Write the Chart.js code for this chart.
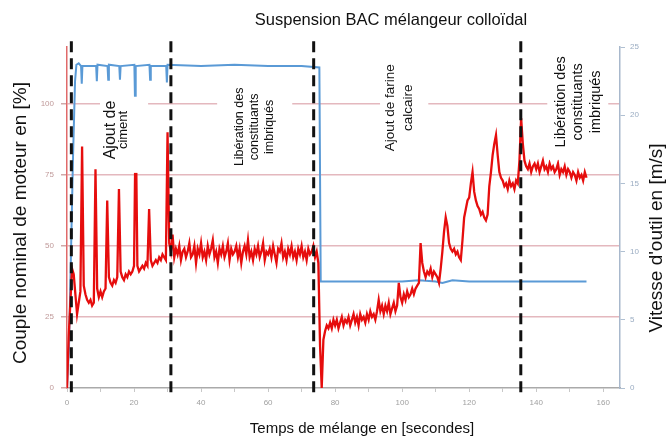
<!DOCTYPE html>
<html>
<head>
<meta charset="utf-8">
<script src="https://cdn.jsdelivr.net/npm/chart.js@4.4.1/dist/chart.umd.min.js"></script>
<style>
  html, body { margin: 0; padding: 0; background: #fff; }
  #wrap { width: 670px; height: 439px; }
</style>
</head>
<body>
<div id="wrap"><canvas id="mixChart" width="670" height="439"></canvas></div>
<script>
// torque [% nominal], one reading every 0.5 s from t = 0
const sampleStep = 0.5;
const torquePct = [
  0, 18, 30, 42, 40, 33, 26, 30, 34, 85,
  36, 33, 31, 30, 31, 29, 30, 77, 35, 32,
  34, 32, 34, 35, 66, 39, 37, 36, 38, 37,
  39, 70, 41, 39, 38, 40, 39, 41, 40, 41,
  43, 95, 43, 41, 42, 43, 42, 44, 43, 63,
  45, 43, 44, 45, 44, 46, 45, 47, 46, 45,
  90, 51,
  48, 54, 46, 49, 47, 50, 45, 48, 49, 46,
  48, 51, 46, 47, 50, 44, 49, 47, 51, 46,
  48, 45, 50, 47, 49, 52, 46, 48, 44, 49,
  47, 50, 46, 48, 51, 45, 49, 47, 48, 50,
  46, 49, 44, 48, 50, 47, 52, 46, 48, 45,
  49, 47, 50, 46, 48, 51, 45, 48, 47, 49,
  46, 50, 47, 44, 49, 48, 51, 46, 48, 45,
  49, 47, 50, 46, 48, 45, 49, 47, 50, 46,
  48, 45, 49, 47, 48, 50, 46, 48,
  44, 15, 0, 17, 20, 22, 21, 23, 21, 24,
  22, 24, 21, 23, 25, 22, 24, 23, 25, 22,
  24, 26, 23, 25, 22, 26, 24, 25, 23, 26,
  24, 27, 25, 26, 24, 27, 31, 27, 29, 26,
  29, 27, 30, 26, 28, 30, 27, 29, 37, 32,
  30, 33, 31, 34, 32, 33, 35, 33, 35, 36,
  37, 51, 44, 41, 39, 41, 40, 42, 39, 41,
  40, 39, 37, 42, 48, 55, 60, 57, 51, 49,
  48, 49, 47, 48, 46, 45, 52, 60, 63, 66,
  67, 72, 76, 69, 66, 64, 63, 61, 62, 60,
  59, 61, 71, 76, 82, 86, 89, 82, 76, 74,
  73, 71, 72, 70, 73, 71, 72, 70, 73, 72,
  80, 95, 86, 80, 78, 77, 79, 76, 78, 79,
  77, 79, 76, 78, 80, 77, 78, 76, 79, 77,
  78, 76, 77, 79, 75, 77, 76, 78, 75, 77,
  76, 74, 76, 75, 73, 76, 74, 75, 73, 76, 74
];

// tool speed [m/s]
const speedTime = [0, 0.6, 1.2, 1.8, 2.4, 2.8, 3.5, 4.2, 4.4, 4.6, 8.7, 8.9, 9.1, 12.1, 12.3, 12.5,
  15.6, 15.8, 16.0, 20.1, 20.3, 20.5, 24.6, 24.8, 25.0, 29.6, 29.8, 30.0, 40, 50, 60, 70, 75.3,
  75.7, 80, 90, 100, 105, 110, 112, 115, 120, 130, 140, 150, 155];
const speedMs = [0, 3, 10, 17, 22.5, 23.7, 23.8, 23.6, 22.3, 23.6, 23.6, 22.5, 23.7, 23.6, 22.6, 23.7,
  23.6, 22.6, 23.6, 23.7, 21.0, 23.6, 23.7, 22.6, 23.6, 23.6, 22.4, 23.7, 23.6, 23.7, 23.6, 23.6, 23.5,
  7.8, 7.8, 7.8, 7.8, 7.9, 7.8, 7.7, 7.9, 7.8, 7.8, 7.8, 7.8, 7.8];

// phase boundaries [s]
const phaseMarks = [1.3, 31, 73.6, 135.4];

const xTicks = [0, 20, 40, 60, 80, 100, 120, 140, 160];
const leftTicks = [0, 25, 50, 75, 100];
const rightTicks = [0, 5, 10, 15, 20, 25];

const notes = [
  { lines: ['Ajout de', 'ciment'], sizes: [16, 13], at: [14.9, 90.8], gap: 12, box: [9.85, 24.2, 75.7, 102.5] },
  { lines: ['Libération des', 'constituants', 'imbriqués'], sizes: [12.5, 12.5, 12.5], at: [56.1, 91.9], gap: 15, box: [44.8, 67.2, 76.8, 111.3] },
  { lines: ['Ajout de farine', 'calcaire'], sizes: [13.5, 13.5], at: [99.1, 98.6], gap: 18, box: [93.4, 107.8, 79.6, 119] },
  { lines: ['Libération des', 'constituants', 'imbriqués'], sizes: [14.5, 14.5, 14.5], at: [152.5, 100.7], gap: 17.5, box: [143.3, 161.5, 80.3, 120.8] }
];

const FONT = "'Liberation Sans', Arial, sans-serif";
Chart.defaults.font.family = FONT;

const markSets = phaseMarks.map(t => ({
  data: [{ x: t, y: -1.5 }, { x: t, y: 123 }],
  yAxisID: 'y',
  borderColor: '#111',
  borderWidth: 3,
  borderDash: [11, 6],
  pointRadius: 0,
  clip: false
}));

const labelsPlugin = {
  id: 'labels',
  afterDatasetsDraw(chart) {
    const ctx = chart.ctx;
    const xs = chart.scales.x, ys = chart.scales.y;
    ctx.save();
    notes.forEach(n => {
      const x1 = xs.getPixelForValue(n.box[0]), x2 = xs.getPixelForValue(n.box[1]);
      const y1 = ys.getPixelForValue(n.box[3]), y2 = ys.getPixelForValue(n.box[2]);
      ctx.fillStyle = '#fff';
      ctx.fillRect(x1, y1, x2 - x1, y2 - y1);
      ctx.save();
      ctx.translate(xs.getPixelForValue(n.at[0]), ys.getPixelForValue(n.at[1]));
      ctx.rotate(-Math.PI / 2);
      ctx.fillStyle = '#111';
      ctx.textAlign = 'center';
      ctx.textBaseline = 'middle';
      n.lines.forEach((s, i) => {
        ctx.font = n.sizes[i] + 'px ' + FONT;
        ctx.fillText(s, 0, (i - (n.lines.length - 1) / 2) * n.gap);
      });
      ctx.restore();
    });
    ctx.restore();
  },
  afterDraw(chart) {
    const ctx = chart.ctx;
    ctx.save();
    ctx.fillStyle = '#111';
    ctx.textAlign = 'center';
    ctx.textBaseline = 'middle';
    ctx.font = '16.5px ' + FONT;
    ctx.fillText('Suspension BAC mélangeur colloïdal', 391, 20);
    ctx.font = '15px ' + FONT;
    ctx.fillText('Temps de mélange en [secondes]', 362, 429);
    ctx.save();
    ctx.translate(21, 223);
    ctx.rotate(-Math.PI / 2);
    ctx.font = '19px ' + FONT;
    ctx.fillText('Couple nominal de moteur en [%]', 0, 0);
    ctx.restore();
    ctx.save();
    ctx.translate(657, 238);
    ctx.rotate(-Math.PI / 2);
    ctx.font = '19px ' + FONT;
    ctx.fillText("Vitesse d'outil en [m/s]", 0, 0);
    ctx.restore();
    ctx.restore();
  }
};

new Chart(document.getElementById('mixChart'), {
  type: 'line',
  data: {
    datasets: [
      ...markSets,
      {
        data: torquePct.map((v, i) => ({ x: i * sampleStep, y: v })),
        yAxisID: 'y',
        borderColor: '#e60d0d',
        borderWidth: 2.3,
        pointRadius: 0,
        tension: 0
      },
      {
        data: speedTime.map((t, i) => ({ x: t, y: speedMs[i] })),
        yAxisID: 'y2',
        borderColor: '#5a9ad6',
        borderWidth: 2,
        pointRadius: 0,
        tension: 0
      }
    ]
  },
  options: {
    responsive: false,
    animation: false,
    layout: { padding: { top: 47, left: 0, right: 0, bottom: 0 } },
    plugins: { legend: { display: false }, tooltip: { enabled: false } },
    scales: {
      x: {
        type: 'linear',
        min: 0,
        max: 165,
        afterFit: s => { s.height = 51; },
        grid: { drawOnChartArea: false, drawTicks: true, tickLength: 4, tickColor: '#c8c8c8' },
        border: { color: '#aaa', width: 1.5 },
        ticks: {
          stepSize: 10,
          includeBounds: false,
          padding: 6,
          maxRotation: 0,
          autoSkip: false,
          color: '#a0a0a0',
          font: { size: 8 },
          callback: v => xTicks.includes(v) ? String(v) : ''
        }
      },
      y: {
        position: 'left',
        min: 0,
        max: 120,
        afterFit: s => { s.width = 67; },
        grid: {
          color: c => c.tick && c.tick.value === 0 ? 'rgba(0,0,0,0)' : '#e4b8be',
          lineWidth: 1.5,
          tickLength: 6,
          tickColor: '#d0a8a8'
        },
        border: { color: '#e06a6a', width: 1.5 },
        afterBuildTicks: s => { s.ticks = leftTicks.map(v => ({ value: v })); },
        ticks: { padding: 7, color: '#c09a9a', font: { size: 8 } }
      },
      y2: {
        position: 'right',
        min: 0,
        max: 25,
        afterFit: s => { s.width = 50; },
        grid: { drawOnChartArea: false, tickLength: 5, tickColor: '#b0c0d2' },
        border: { color: '#a8b8cc', width: 1.5 },
        afterBuildTicks: s => { s.ticks = rightTicks.map(v => ({ value: v })); },
        ticks: { padding: 5, color: '#9aacc2', font: { size: 8 } }
      }
    }
  },
  plugins: [labelsPlugin]
});
</script>
</body>
</html>
